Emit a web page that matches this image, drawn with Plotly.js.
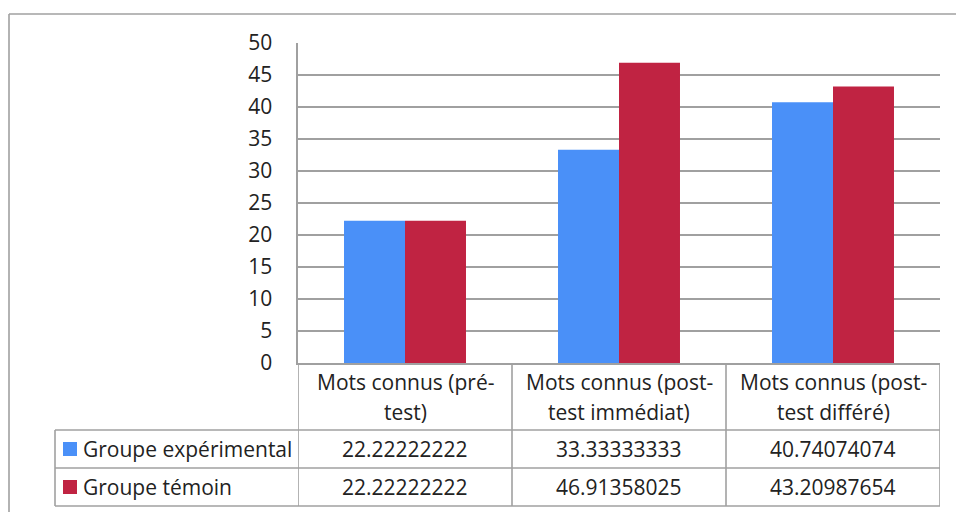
<!DOCTYPE html>
<html>
<head>
<meta charset="utf-8">
<script src="https://cdn.plot.ly/plotly-3.0.1.min.js"></script>
<style>
  html, body { margin: 0; padding: 0; background: #ffffff; }
  #chart { width: 956px; height: 512px; }
</style>
</head>
<body>
<div id="chart"></div>
<script>
// ---- data ----
const categories = ['Mots connus (pré-test)', 'Mots connus (post-test immédiat)', 'Mots connus (post-test différé)'];
const seriesNames = ['Groupe expérimental', 'Groupe témoin'];
const experimental = [22.22222222, 33.33333333, 40.74074074];
const temoin = [22.22222222, 46.91358025, 43.20987654];
const yTicks = [0, 5, 10, 15, 20, 25, 30, 35, 40, 45, 50];

// ---- style ----
const colors = ['#4a90f8', '#c02342'];
const lineCol = '#a0a0a0';
const textCol = '#222222';
const FONT = 'Open Sans, sans-serif';
const FS = 21;
const W = 956, H = 512;
const M = {l: 298, r: 16, t: 43, b: 149};
const plotTop = M.t, plotBot = H - M.b, plotL = M.l, plotR = W - M.r;
const py = y => (plotBot - y) / (plotBot - plotTop);
const px = x => (x - plotL) / (plotR - plotL);

const seriesVals = [experimental, temoin];

const traces = seriesVals.map((vals, i) => ({
  type: 'bar',
  x: categories,
  y: vals,
  name: seriesNames[i],
  marker: {color: colors[i], line: {width: 0}},
  hoverinfo: 'x+y+name'
}));

// table geometry (pixels)
const rowHeaderTop = plotBot, rowHeaderBot = 430;
const row1Bot = 468, row2Bot = 506;
const legendLeft = 55;

const shapes = [];
const lineStyle = {color: lineCol, width: 1.6};
// horizontal table lines
[[rowHeaderBot, legendLeft], [row1Bot, legendLeft], [row2Bot, legendLeft]].forEach(([y, xl]) => {
  shapes.push({type: 'line', xref: 'paper', yref: 'paper', x0: px(xl), x1: 1, y0: py(y), y1: py(y), line: lineStyle});
});
// vertical category lines (category boundaries in data coordinates)
for (let k = 0; k <= categories.length; k++) {
  shapes.push({type: 'line', xref: 'x', yref: 'paper', x0: k - 0.5, x1: k - 0.5, y0: 0, y1: py(row2Bot), line: lineStyle});
}
// left border of legend column
shapes.push({type: 'line', xref: 'paper', yref: 'paper', x0: px(legendLeft), x1: px(legendLeft), y0: py(rowHeaderBot), y1: py(row2Bot), line: lineStyle});
// outer chart frame (top and left)
shapes.push({type: 'line', xref: 'paper', yref: 'paper', x0: px(9), x1: px(W + 5), y0: py(14), y1: py(14), line: lineStyle});
shapes.push({type: 'line', xref: 'paper', yref: 'paper', x0: px(9), x1: px(9), y0: py(14), y1: py(H + 5), line: lineStyle});

const rowCenters = [(rowHeaderBot + row1Bot) / 2, (row1Bot + row2Bot) / 2];
// legend keys
rowCenters.forEach((yc, i) => {
  shapes.push({type: 'rect', xref: 'paper', yref: 'paper',
    x0: px(63), x1: px(77), y0: py(yc - 7), y1: py(yc + 7),
    fillcolor: colors[i], line: {width: 0}});
});

const annotations = [];
const baseAnn = {showarrow: false, font: {family: FONT, size: FS, color: textCol}};
// header cells: split after first hyphen into two lines
categories.forEach((c, k) => {
  const idx = c.indexOf('-');
  const lines = idx >= 0 ? [c.slice(0, idx + 1), c.slice(idx + 1)] : [c];
  const ys = [381.5, 411.5];
  lines.forEach((ln, j) => {
    annotations.push(Object.assign({}, baseAnn, {
      xref: 'x', yref: 'paper', x: k, y: py(ys[j]), text: ln,
      xanchor: 'center', yanchor: 'middle'
    }));
  });
});
// row labels and values
seriesVals.forEach((vals, i) => {
  annotations.push(Object.assign({}, baseAnn, {
    xref: 'paper', yref: 'paper', x: px(81), y: py(rowCenters[i]), text: seriesNames[i],
    xanchor: 'left', yanchor: 'middle'
  }));
  vals.forEach((v, k) => {
    annotations.push(Object.assign({}, baseAnn, {
      xref: 'x', yref: 'paper', x: k, y: py(rowCenters[i]), text: String(v),
      xanchor: 'center', yanchor: 'middle'
    }));
  });
});

const layout = {
  width: W, height: H,
  margin: M,
  paper_bgcolor: '#ffffff',
  plot_bgcolor: '#ffffff',
  showlegend: false,
  barmode: 'group',
  bargap: 0.43,
  bargroupgap: 0,
  font: {family: FONT, size: FS, color: textCol},
  xaxis: {
    type: 'category',
    range: [-0.5, categories.length - 0.5],
    showticklabels: false,
    showgrid: false,
    zeroline: false,
    showline: true,
    linecolor: lineCol,
    linewidth: 1.6,
    ticks: ''
  },
  yaxis: {
    range: [0, 50],
    tickvals: yTicks,
    ticktext: yTicks.map(String),
    showgrid: true,
    gridcolor: lineCol,
    gridwidth: 1.4,
    zeroline: false,
    showline: true,
    linecolor: lineCol,
    linewidth: 1.6,
    ticks: '',
    ticklabelstandoff: 20,
    tickfont: {family: FONT, size: FS, color: textCol}
  },
  shapes: shapes,
  annotations: annotations
};

Plotly.newPlot('chart', traces, layout, {displayModeBar: false, staticPlot: true});
</script>
</body>
</html>
